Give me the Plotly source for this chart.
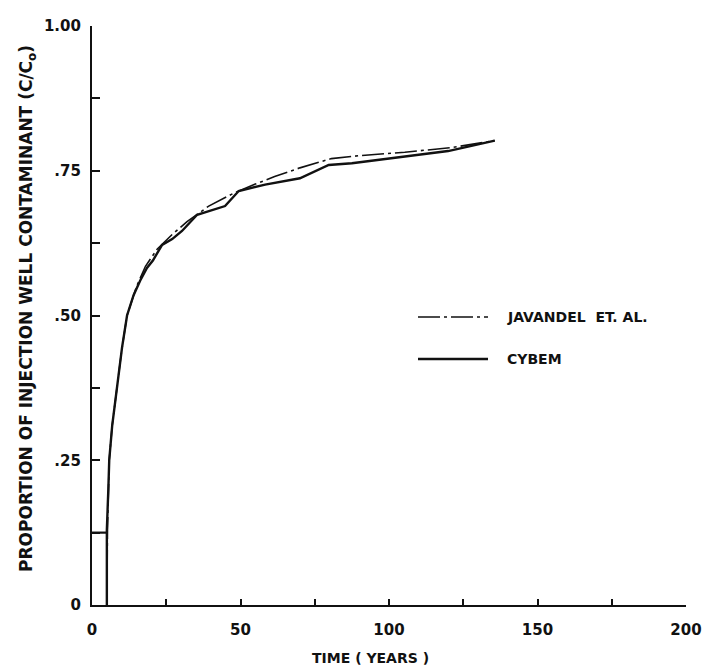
import plotly.graph_objects as go

# ---- data ----
t_javandel = [5.0, 5.2, 5.8, 6.8, 8.4, 10.0, 11.8, 15.0, 18.0, 22.0, 27.0, 32.0,
              39.3, 48.0, 55.0, 61.5, 70.0, 80.6, 90.0, 105.3, 121.0, 135.6]
c_javandel = [0.0, 0.13, 0.25, 0.31, 0.375, 0.44, 0.50, 0.55, 0.585, 0.615, 0.64, 0.662,
              0.689, 0.712, 0.727, 0.740, 0.755, 0.771, 0.776, 0.782, 0.790, 0.802]

t_cybem = [5.0, 5.0, 5.5, 5.8, 6.8, 8.4, 10.1, 11.8, 14.0, 16.2, 18.5, 20.5, 23.6, 27.0,
           30.3, 35.4, 44.8, 49.4, 58.3, 70.0, 79.7, 87.5, 100.0, 119.9, 127.0, 135.6]
c_cybem = [0.0, 0.13, 0.20, 0.25, 0.31, 0.375, 0.444, 0.50, 0.535, 0.56, 0.582, 0.595,
           0.622, 0.632, 0.646, 0.674, 0.689, 0.715, 0.726, 0.737, 0.760, 0.763, 0.771,
           0.784, 0.792, 0.802]

# short guide stroke drawn at C/Co = .125 from the axis to the curve
t_guide = [0.0, 5.0]
c_guide = [0.125, 0.125]

x_tickvals = [0, 50, 100, 150, 200]
x_ticktext = ["0", "50", "100", "150", "200"]
y_tickvals = [0, 0.25, 0.5, 0.75, 1.0]
y_ticktext = ["0", ".25", ".50", ".75", "1.00"]

series_names = ["JAVANDEL  ET. AL.", "CYBEM"]

FONT = "DejaVu Sans"
INK = "#111111"

fig = go.Figure()
fig.add_trace(go.Scatter(x=t_javandel, y=c_javandel, mode="lines", name=series_names[0],
                         line=dict(color=INK, width=1.6, dash="22px,4px,3px,4px"),
                         showlegend=False))
fig.add_trace(go.Scatter(x=t_cybem, y=c_cybem, mode="lines", name=series_names[1],
                         line=dict(color=INK, width=2.4), showlegend=False))
fig.add_trace(go.Scatter(x=t_guide, y=c_guide, mode="lines", line=dict(color=INK, width=2.2),
                         showlegend=False, hoverinfo="skip"))

fig.update_layout(
    width=714, height=666,
    margin=dict(l=84, r=36, t=18, b=69),
    paper_bgcolor="white", plot_bgcolor="white",
    font=dict(family=FONT, color=INK),
    xaxis=dict(range=[0, 200], showgrid=False, zeroline=False, showline=True, automargin=False,
               linecolor=INK, linewidth=2.2, ticks="inside", ticklen=6, tickwidth=1.6,
               tickcolor=INK, tickvals=x_tickvals, ticktext=x_ticktext,
               tickfont=dict(family=FONT, size=15, color=INK, weight="bold"),
               ticklabelstandoff=10,
               minor=dict(dtick=25, ticks="inside", ticklen=6, tickwidth=1.6, tickcolor=INK,
                          showgrid=False)),
    yaxis=dict(range=[0, 1.0], showgrid=False, zeroline=False, showline=True, automargin=False,
               linecolor=INK, linewidth=2.2, ticks="inside", ticklen=8, tickwidth=1.8,
               tickcolor=INK, tickvals=y_tickvals, ticktext=y_ticktext,
               tickfont=dict(family=FONT, size=15, color=INK, weight="bold"),
               ticklabelstandoff=6,
               minor=dict(dtick=0.125, ticks="inside", ticklen=8, tickwidth=1.8, tickcolor=INK,
                          showgrid=False)),
)

# axis titles
fig.add_annotation(text="PROPORTION OF INJECTION WELL CONTAMINANT (C/C<sub>o</sub>)",
                   xref="paper", yref="paper", x=(19 - 84) / 594, y=(597 - 301) / 579,
                   textangle=-90, showarrow=False, xanchor="center", yanchor="middle",
                   font=dict(family=FONT, size=17, color=INK, weight="bold"))
fig.add_annotation(text="TIME ( YEARS )", xref="paper", yref="paper",
                   x=(362 - 84) / 594, y=-(650 - 597) / 579, showarrow=False,
                   xanchor="center", yanchor="middle",
                   font=dict(family=FONT, size=14, color=INK, weight="bold"))

# hand-drawn legend (line samples + labels)
legend_rows = [(309, "22px,4px,3px,4px", 1.6), (351, "solid", 2.6)]
for (ypx, dash, w), name in zip(legend_rows, series_names):
    yp = (597 - ypx) / 579
    fig.add_shape(type="line", xref="paper", yref="paper",
                  x0=(410 - 84) / 594, x1=(480 - 84) / 594, y0=yp, y1=yp,
                  line=dict(color=INK, width=w, dash=dash))
    fig.add_annotation(text=name, xref="paper", yref="paper", x=(497 - 84) / 594, y=yp,
                       xanchor="left", yanchor="middle", showarrow=False,
                       font=dict(family=FONT, size=14, color=INK, weight="bold"))

fig.write_html("out.html")
